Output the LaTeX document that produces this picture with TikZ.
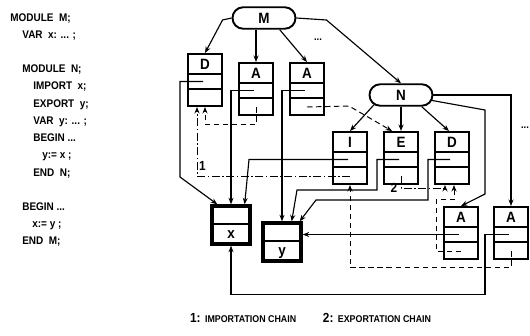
\documentclass[tikz,border=0pt]{standalone}
\usepackage{fontspec}
\setmainfont{Liberation Sans}
\newfontfamily\plotfont[FakeStretch=0.9]{Liberation Sans}
\usepackage{tikz}
\usetikzlibrary{arrows.meta,shapes.misc,positioning,calc}
\tikzset{
  mdmodule/.style={
    rounded rectangle, draw=black, fill=white, line width=1.1pt,
    minimum width=12.6mm, minimum height=4.3mm, inner sep=0pt,
    font=\plotfont\bfseries\fontsize{8.5}{8.5}\selectfont
  },
  mdrecord/.style={
    draw=black, fill=white, line width=1.1pt, inner sep=0pt,
    minimum width=6.8mm, minimum height=10.4mm,
    path picture={
      \draw[line width=0.9pt] ([yshift=-4mm]path picture bounding box.north west) -- ++(8mm,0);
      \draw[line width=0.9pt] ([yshift=-7mm]path picture bounding box.north west) -- ++(8mm,0);
      \node[font=\plotfont\bfseries\fontsize{8.5}{8.5}\selectfont] at ([yshift=-2mm]path picture bounding box.north) {#1};
    }
  },
  mdvar/.style={
    draw=black, fill=white, line width=1.9pt, inner sep=0pt,
    minimum width=7.6mm, minimum height=7.6mm,
    path picture={
      \draw[line width=0.9pt] ([yshift=-3.6mm]path picture bounding box.north west) -- ++(9mm,0);
      \node[font=\plotfont\bfseries\fontsize{8.5}{8.5}\selectfont,anchor=base] at ([yshift=-6.5mm]path picture bounding box.north) {#1};
    }
  },
  mdedge/.style={-{Stealth[length=1.3mm,width=1mm]},line width=0.65pt},
  mdref/.style={-{Stealth[length=1.3mm,width=1mm]},line width=0.55pt,dash pattern=on 1.1mm off 0.7mm},
  mdchain/.style={-{Stealth[length=1.3mm,width=1mm]},line width=0.55pt,dash pattern=on 1.6mm off 0.5mm on 0.3mm off 0.5mm},
  mdnum/.style={font=\plotfont\bfseries\fontsize{7.5}{7.5}\selectfont,inner sep=1pt},
  mdnote/.style={font=\plotfont\bfseries\fontsize{6}{6}\selectfont,inner sep=0pt},
  mdcode/.style={font=\plotfont\bfseries\fontsize{6.3}{9.8}\selectfont,align=left,inner sep=0pt}
}

\begin{document}
\begin{tikzpicture}[x=0.2mm,y=-0.2mm]
  \useasboundingbox (0,0) rectangle (530,335);

  % program text
  \node[mdcode,anchor=north west] (code) at (10,13) {%
    MODULE\ \ M;\\
    \hspace*{2.4mm}VAR\ \ x: ... ;\\[9.8pt]
    \hspace*{2.4mm}MODULE\ \ N;\\
    \hspace*{4.6mm}IMPORT\ \ x;\\
    \hspace*{4.6mm}EXPORT\ \ y;\\
    \hspace*{4.6mm}VAR\ \ y: ... ;\\
    \hspace*{4.6mm}BEGIN ...\\
    \hspace*{6.4mm}y:= x ;\\
    \hspace*{4.6mm}END\ \ N;\\[9.8pt]
    \hspace*{2.4mm}BEGIN ...\\
    \hspace*{4.4mm}x:= y ;\\
    \hspace*{2.4mm}END\ \ M;};

  % module M and its entries
  \node[mdmodule] (M) at (264,18) {M};
  \node[mdrecord=D] (MD) at (205,80) {};
  \node[mdrecord=A] (MA1) at (256,89) {};
  \node[mdrecord=A] (MA2) at (307,89) {};
  \node[mdnote] (dotsM) at (318,40) {...};

  % module N and its entries
  \node[mdmodule] (N) at (401,95) {N};
  \node[mdrecord=I] (NI) at (350,158) {};
  \node[mdrecord=E] (NE) at (401,158) {};
  \node[mdrecord=D] (ND) at (452,158) {};
  \node[mdrecord=A] (NA1) at (461,233) {};
  \node[mdrecord=A] (NA2) at (511,233) {};
  \node[mdnote] (dotsN) at (525,128) {...};

  % variables
  \node[mdvar=x] (X) at (231,225) {};
  \node[mdvar=y] (Y) at (282,242) {};

  \foreach \r in {MD,MA1,MA2,NI,NE,ND,NA1,NA2}{
    \coordinate (\r-2) at ($(\r.center)+(-2,1.5)$);
    \coordinate (\r-3) at ($(\r.center)+(0,18)$);
  }

  % tree edges
  \draw[mdedge] (M.west) -- ++(-9,2) -- (MD.north);
  \draw[mdedge] (M.south -| MA1.north) -- (MA1.north);
  \draw[mdedge] ([xshift=-1mm]M.south east) -- (MA2.north);
  \draw[mdedge] (M.east) -- ++(30,2) -- (N.north);
  \draw[mdedge] (N.200) -- (NI.north);
  \draw[mdedge] (N.south) -- (NE.north);
  \draw[mdedge] (N.south east) -- ([xshift=-0.6mm]ND.north);
  \draw[mdedge] (N.350) -- (485,110) -- (485,194) -- (NA1.north);
  \draw[mdedge] (N.east) -- (N.east -| NA2.north) -- (NA2.north);

  % references to the variables
  \draw[mdedge] (MD-2) -| (180,177) -- ([xshift=1.4mm]X.north west);
  \draw[mdedge] (MA1-2) -| (X.north);
  \draw[mdedge] (MA2-2) -| (Y.north);
  \draw[mdedge] (NI-2) -- ++(-99,0) -- ([xshift=-1.4mm]X.north east);
  \draw[mdedge] (NE-2) -- ++(-22,0) |- (297,190) -- ([xshift=-2.2mm]Y.north east);
  \draw[mdedge] (ND-2) -- ++(-22,0) |- (316,200) -- ([xshift=-0.6mm]Y.north east);
  \draw[mdedge] (NA1-2) -- (NA1-2 -| Y.east);
  \draw[mdedge] (NA2-2) -- ++(-24,0) |- ($(X.south)+(0,49)$) -- (X.south);

  % links between entries
  \draw[mdref] (MA1-3) -- ++(0,17) -| (MD.south);
  \draw[mdref] (MA2-3) -- ++(42,-1) -- ([xshift=1.8mm]NE.north west);
  \draw[mdref] (NA1-3) -- ++(-25,0) |- ($(ND.south)+(2,15)$) -- ([xshift=0.4mm]ND.south);
  \draw[mdref] (NA2-3) -- ++(0,16) -| (NI.south);

  % chains
  \draw[mdchain] (NI-3) -| node[mdnum,pos=0.57,right] {1} ([xshift=-1.6mm]MD.south);
  \draw[mdchain] (NE-3) -- ++(0,12) node[mdnum,left=0.3mm] {2} -| ([xshift=-1.4mm]ND.south);

  % legend
  \node[mdnum,anchor=west] (leg1) at (188,318) {1: {\fontsize{5.6}{5.6}\selectfont IMPORTATION CHAIN}};
  \node[mdnum,right=4.5mm of leg1] (leg2) {2: {\fontsize{5.6}{5.6}\selectfont EXPORTATION CHAIN}};
\end{tikzpicture}
\end{document}
